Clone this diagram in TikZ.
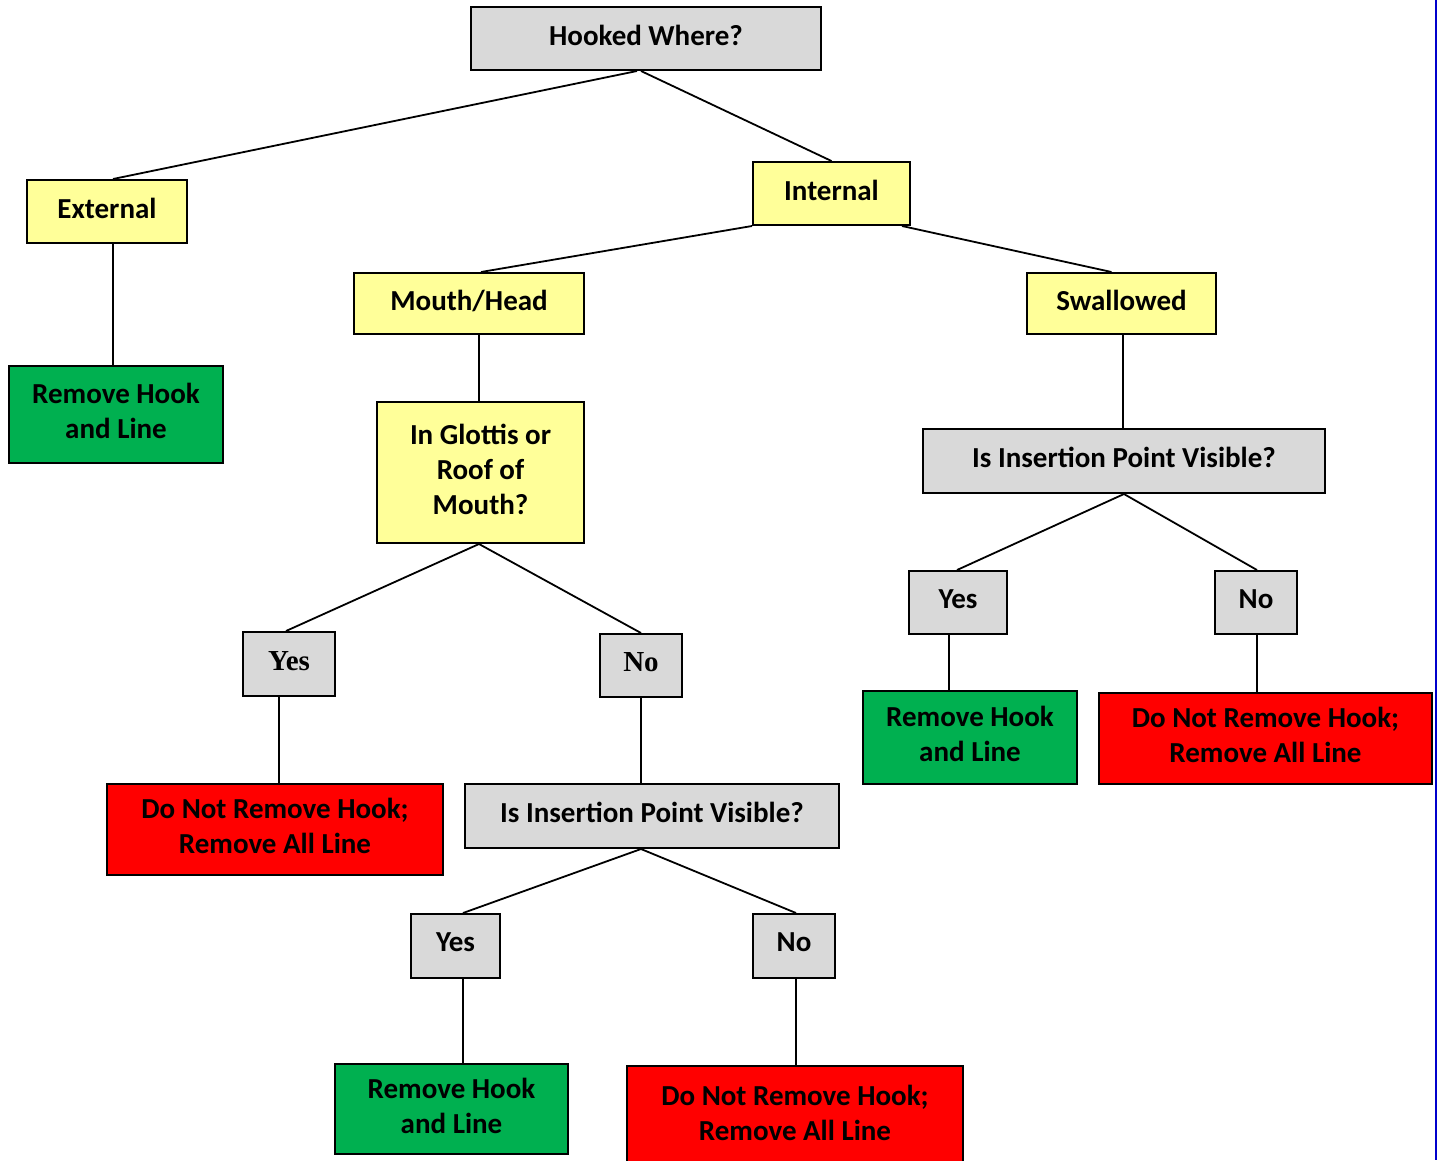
\documentclass[tikz,border=0pt]{standalone}
\usepackage{fontspec}
\setmainfont{Carlito}
\newfontfamily\serifbold{Liberation Serif}
\definecolor{boxgray}{HTML}{D9D9D9}
\definecolor{boxyellow}{HTML}{FFFF99}
\definecolor{boxgreen}{HTML}{00B050}
\definecolor{boxred}{HTML}{FF0000}
\definecolor{edgeblue}{RGB}{0,0,204}
\tikzset{
  box/.style={draw=black, line width=2pt, anchor=north west, inner sep=0pt,
    align=center, text depth=7pt, font=\fontsize{29}{35}\selectfont\bfseries},
  graybox/.style={box, fill=boxgray},
  yellowbox/.style={box, fill=boxyellow},
  greenbox/.style={box, fill=boxgreen},
  redbox/.style={box, fill=boxred},
  serifbox/.style={graybox, font=\fontsize{29}{35}\selectfont\serifbold\bfseries},
  link/.style={draw=black, line width=1.8pt},
}
\begin{document}
\begin{tikzpicture}[x=1pt, y=-1pt]
\useasboundingbox (0,0) rectangle (1439,1160);
\fill[white] (0,0) rectangle (1439,1160);
% boxes (top-left corner, width, height)
\node[graybox, minimum width=350pt, minimum height=63pt] (hw) at (470,6) {Hooked Where?};
\node[yellowbox, minimum width=160pt, minimum height=63pt] (ext) at (26,179) {External};
\node[yellowbox, minimum width=157pt, minimum height=63pt] (int) at (752,161) {Internal};
\node[greenbox, minimum width=214pt, minimum height=97pt] (rm1) at (8,365) {Remove Hook\\and Line};
\node[yellowbox, minimum width=230pt, minimum height=61pt] (mh) at (353,272) {Mouth/Head};
\node[yellowbox, minimum width=189pt, minimum height=61pt] (sw) at (1026,272) {Swallowed};
\node[yellowbox, minimum width=207pt, minimum height=141pt] (gl) at (376,401) {In Glottis or\\Roof of\\Mouth?};
\node[graybox, minimum width=402pt, minimum height=64pt] (ipa) at (922,428) {Is Insertion Point Visible?};
\node[serifbox, minimum width=92pt, minimum height=64pt] (ysa) at (242,631) {Yes};
\node[serifbox, minimum width=82pt, minimum height=63pt] (noa) at (599,633) {No};
\node[graybox, minimum width=98pt, minimum height=63pt] (ysb) at (908,570) {Yes};
\node[graybox, minimum width=82pt, minimum height=63pt] (nob) at (1214,570) {No};
\node[greenbox, minimum width=214pt, minimum height=93pt] (rmb) at (862,690) {Remove Hook\\and Line};
\node[redbox, minimum width=333pt, minimum height=91pt] (dnb) at (1098,692) {Do Not Remove Hook;\\Remove All Line};
\node[redbox, minimum width=336pt, minimum height=91pt] (dna) at (106,783) {Do Not Remove Hook;\\Remove All Line};
\node[graybox, minimum width=374pt, minimum height=64pt] (ipc) at (464,783) {Is Insertion Point Visible?};
\node[graybox, minimum width=89pt, minimum height=64pt] (ysc) at (410,913) {Yes};
\node[graybox, minimum width=82pt, minimum height=64pt] (noc) at (752,913) {No};
\node[greenbox, minimum width=233pt, minimum height=90pt] (rmc) at (334,1063) {Remove Hook\\and Line};
\node[redbox, minimum width=336pt, minimum height=100pt] (dnc) at (626,1065) {Do Not Remove Hook;\\Remove All Line};
% connectors
\draw[link] ([xshift=-9pt]hw.south) -- ([xshift=6pt]ext.north);
\draw[link] ([xshift=-5pt]hw.south) -- (int.north);
\draw[link] ([xshift=6pt]ext.south) -- ([xshift=-3pt]rm1.north);
\draw[link] (int.south west) -- ([xshift=12pt]mh.north);
\draw[link] ([xshift=-9pt]int.south east) -- ([xshift=-10pt]sw.north);
\draw[link] ([xshift=10pt]mh.south) -- ([xshift=-1.5pt]gl.north);
\draw[link] ([xshift=1.5pt]sw.south) -- ([xshift=-1pt]ipa.north);
\draw[link] (ipa.south) -- ([xshift=-1pt]ysb.north);
\draw[link] (ipa.south) -- ([xshift=1pt]nob.north);
\draw[link] ([xshift=-9pt]ysb.south) -- ([xshift=-21pt]rmb.north);
\draw[link] ([xshift=1pt]nob.south) -- ([xshift=-8.5pt]dnb.north);
\draw[link] ([xshift=-1.5pt]gl.south) -- ([xshift=-3pt]ysa.north);
\draw[link] ([xshift=-1.5pt]gl.south) -- (noa.north);
\draw[link] ([xshift=-10pt]ysa.south) -- ([xshift=4pt]dna.north);
\draw[link] (noa.south) -- ([xshift=-11pt]ipc.north);
\draw[link] ([xshift=-11pt]ipc.south) -- ([xshift=7.5pt]ysc.north);
\draw[link] ([xshift=-11pt]ipc.south) -- ([xshift=2pt]noc.north);
\draw[link] ([xshift=7.5pt]ysc.south) -- ([xshift=11.5pt]rmc.north);
\draw[link] ([xshift=2pt]noc.south) -- ([xshift=1pt]dnc.north);
% right border line
\draw[edgeblue, line width=2.5pt] (1436,0) -- (1436,1160);
\end{tikzpicture}
\end{document}
